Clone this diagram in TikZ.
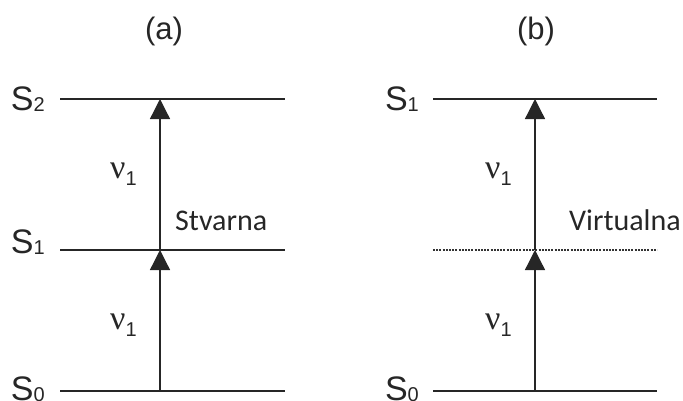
\documentclass[tikz,border=0pt]{standalone}
\usepackage{fontspec}
\setmainfont{Liberation Sans}
\newfontfamily\calib{Carlito}
\newfontfamily\greekfont{Liberation Serif}
\usetikzlibrary{arrows.meta}
\begin{document}
\begin{tikzpicture}[x=1pt,y=-1pt,
  level/.style={line width=2pt, black!85},
  virt/.style={line width=1.4pt, black!80, dash pattern=on 2pt off 1.2pt},
  photon/.style={line width=1.3pt, black!85, -{Triangle[width=20pt,length=20pt]}},
  title/.style={font=\fontsize{31}{31}\selectfont, text=black!85},
  state/.style={font=\fontsize{34}{34}\selectfont, text=black!85, anchor=base east, inner sep=0pt},
  nulab/.style={font=\fontsize{34}{34}\selectfont, text=black!85, inner sep=0pt, anchor=base west},
  kind/.style={font=\calib\fontsize{30}{30}\selectfont, text=black!85, inner sep=0pt, anchor=base west}]
\newcommand{\stlab}[1]{S\raisebox{-1pt}{\fontsize{20}{20}\selectfont #1}}
\newcommand{\nulabtext}{{\greekfont ν}\raisebox{-7pt}{\fontsize{20}{20}\selectfont 1}}
\useasboundingbox (0,0) rectangle (683,400);
% panel (a)
\node[title] (ta) at (164,31) {(a)};
\coordinate (a2l) at (60,99);  \coordinate (a2r) at (285,99);
\coordinate (a1l) at (60,250); \coordinate (a1r) at (285,250);
\coordinate (a0l) at (60,391); \coordinate (a0r) at (285,391);
\draw[level] (a2l) -- (a2r);
\draw[level] (a1l) -- (a1r);
\draw[level] (a0l) -- (a0r);
\coordinate (pa0) at (160,391); \coordinate (pa1) at (160,250); \coordinate (pa2) at (160,99);
\draw[photon] (pa0) -- (pa1);
\draw[photon] (pa1) -- (pa2);
\node[state] (sa2) at (45,110) {\stlab{2}};
\node[state] (sa1) at (45,253) {\stlab{1}};
\node[state] (sa0) at (45,400) {\stlab{0}};
\node[nulab] (na1) at (110,178) {\nulabtext};
\node[nulab] (na0) at (110,329) {\nulabtext};
\node[kind] (ka) at (175,230) {Stvarna};
% panel (b)
\node[title] (tb) at (536,31) {(b)};
\coordinate (b1l) at (433,99);  \coordinate (b1r) at (657,99);
\coordinate (bvl) at (433,250); \coordinate (bvr) at (657,250);
\coordinate (b0l) at (433,391); \coordinate (b0r) at (657,391);
\draw[level] (b1l) -- (b1r);
\draw[virt] (bvl) -- (bvr);
\draw[level] (b0l) -- (b0r);
\coordinate (pb0) at (535,391); \coordinate (pb1) at (535,250); \coordinate (pb2) at (535,99);
\draw[photon] (pb0) -- (pb1);
\draw[photon] (pb1) -- (pb2);
\node[state] (sb1) at (419,110) {\stlab{1}};
\node[state] (sb0) at (419,400) {\stlab{0}};
\node[nulab] (nb1) at (485,178) {\nulabtext};
\node[nulab] (nb0) at (485,329) {\nulabtext};
\node[kind] (kb) at (569,230) {Virtualna};
\end{tikzpicture}
\end{document}
